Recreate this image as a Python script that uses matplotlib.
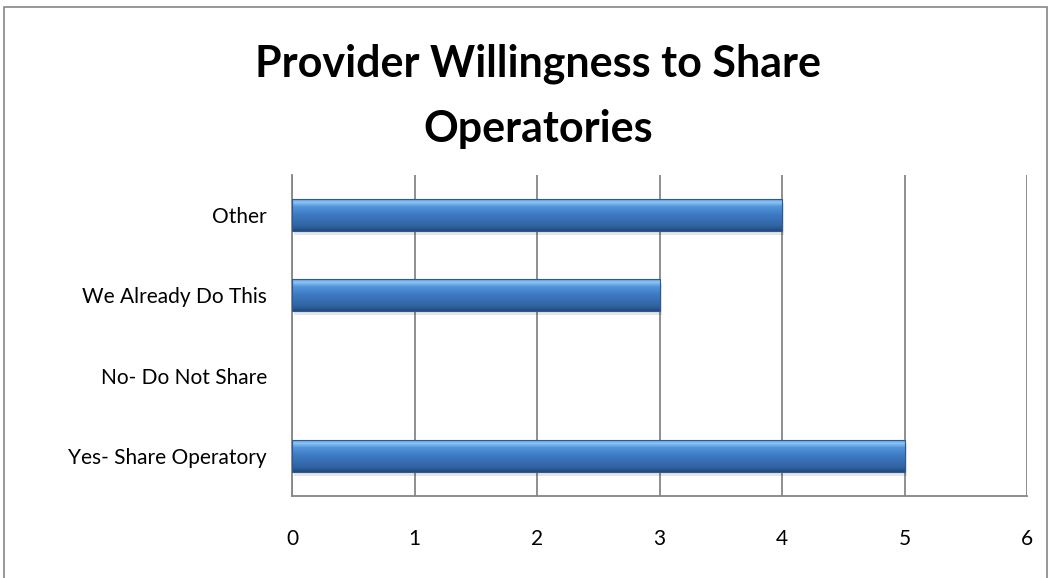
import numpy as np
import matplotlib
matplotlib.use("Agg")
import matplotlib.pyplot as plt
from matplotlib.colors import LinearSegmentedColormap
from matplotlib.patches import Rectangle

categories = ["Yes- Share Operatory", "No- Do Not Share", "We Already Do This", "Other"]
counts = [5, 0, 3, 4]
x_ticks = [0, 1, 2, 3, 4, 5, 6]
title = "Provider Willingness to Share\nOperatories"

plt.rcParams["font.family"] = ["Lato", "DejaVu Sans"]

fig = plt.figure(figsize=(10.5, 5.78), dpi=100)
ax = fig.add_axes([292 / 1050, 1 - 496 / 578, (1027 - 292) / 1050, (496 - 175) / 578])

# outer chart frame
fig.add_artist(Rectangle((4 / 1050, -0.05), 1043 / 1050, 1 - 7 / 578 + 0.05,
                         transform=fig.transFigure, fill=False,
                         edgecolor="#868686", linewidth=1.2))

grad = LinearSegmentedColormap.from_list(
    "bar", [(0.0, "#22497c"), (0.15, "#3164a2"), (0.5, "#3c7bc3"),
            (0.75, "#5594da"), (0.88, "#8ac6f6"), (1.0, "#4f8fd6")])
ypos = np.arange(len(categories))
bars = ax.barh(ypos, counts, height=0.4, color="#3c7bc3", zorder=3)
for b in bars:
    w = b.get_width()
    if w <= 0:
        continue
    x0, y0, h = b.get_x(), b.get_y(), b.get_height()
    # soft shadow under bar
    ax.add_patch(Rectangle((x0 + 0.02, y0 - 0.05), w, h, color="#000000",
                           alpha=0.10, zorder=2, linewidth=0))
    img = np.linspace(0, 1, 64).reshape(-1, 1)
    im = ax.imshow(img, cmap=grad, aspect="auto", extent=(x0, x0 + w, y0, y0 + h),
                   origin="lower", zorder=4)
    im.set_clip_path(b)
    ax.add_patch(Rectangle((x0, y0), w, h, fill=False, edgecolor="#2c5a94",
                           linewidth=0.8, zorder=5))

ax.set_xlim(0, 6)
ax.set_ylim(-0.5, len(categories) - 0.5)
ax.set_xticks(x_ticks)
ax.set_xticklabels([str(t) for t in x_ticks], fontsize=15)
ax.set_yticks(ypos)
ax.set_yticklabels(categories, fontsize=15)
ax.tick_params(axis="x", length=0, pad=24)
ax.tick_params(axis="y", length=0, pad=18)
ax.grid(axis="x", color="#868686", linewidth=1.3, zorder=0)
for s in ["top", "right"]:
    ax.spines[s].set_visible(False)
for s in ["left", "bottom"]:
    ax.spines[s].set_color("#868686")
    ax.spines[s].set_linewidth(1.3)

fig.text(538 / 1050, 1 - 96 / 578, title, ha="center", va="center",
         fontsize=31, fontweight="bold", linespacing=1.75)

fig.savefig("out.png", dpi=100)
